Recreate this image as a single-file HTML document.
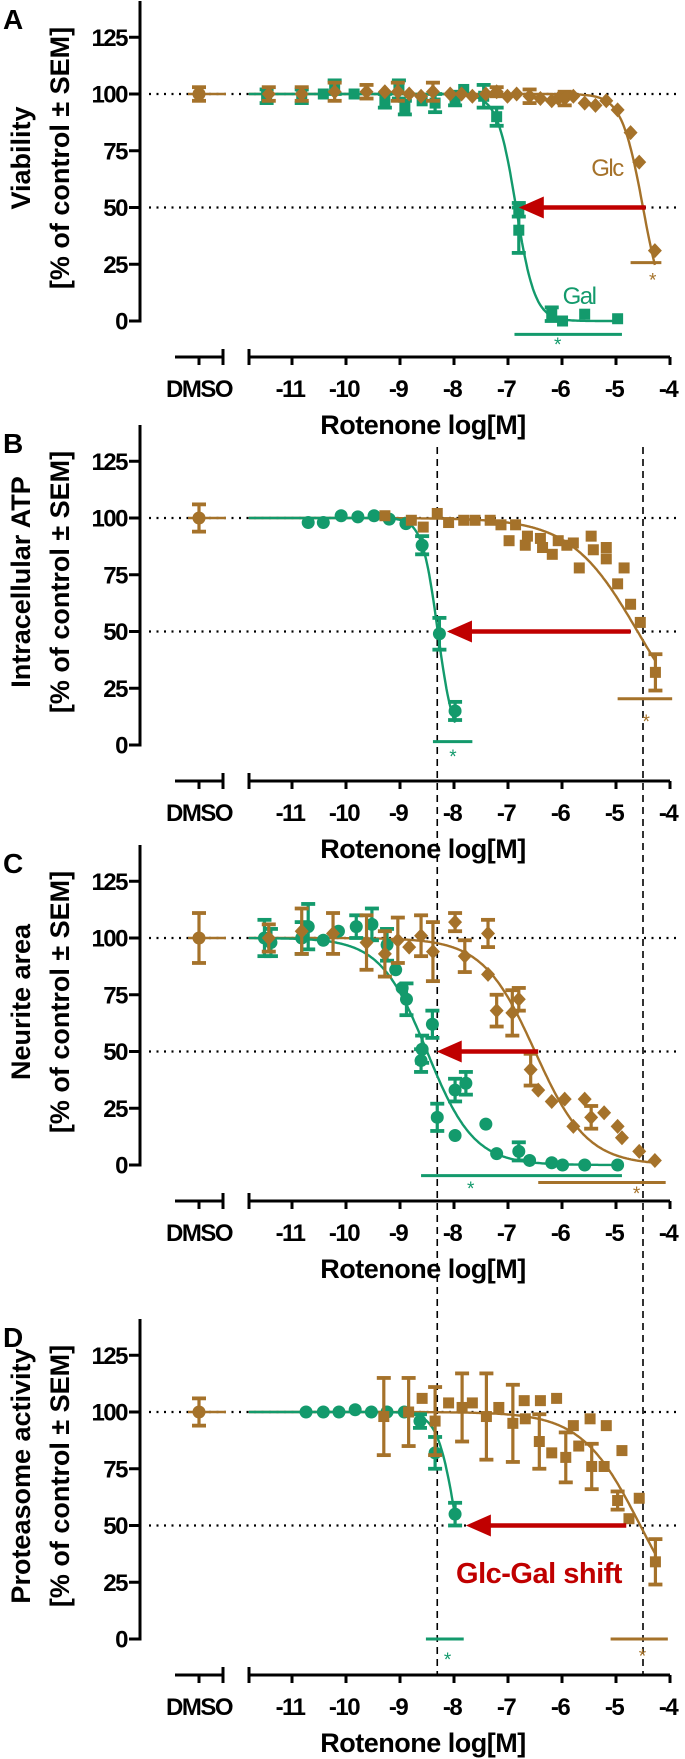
<!DOCTYPE html>
<html><head><meta charset="utf-8"><style>
html,body{margin:0;padding:0;background:#fff;}
svg{display:block;font-family:"Liberation Sans",Arial,sans-serif;}
</style></head><body>
<svg id="fig" width="685" height="1759" viewBox="0 0 685 1759" xmlns="http://www.w3.org/2000/svg"></svg>
<script>
// ---- data (log[M] concentrations, % of control, SEM) ----
const panelLetters = ["A","B","C","D"];
const yTitles1 = ["Viability","Intracellular ATP","Neurite area","Proteasome activity"];
const yTitles2 = ["[% of control \u00b1 SEM]","[% of control \u00b1 SEM]","[%  of control \u00b1 SEM]","[%  of control \u00b1 SEM]"];
const yTickVals = [0,25,50,75,100,125];
const xTickVals = [-11,-10,-9,-8,-7,-6,-5,-4];
const dmsoErr = [3,6,11,6];

const glcX_A = [-11.43,-10.82,-10.21,-9.62,-9.28,-9.04,-8.83,-8.61,-8.39,-8.07,-7.86,-7.66,-7.41,-7.21,-7.01,-6.84,-6.60,-6.40,-6.19,-6.07,-5.95,-5.79,-5.58,-5.38,-5.18,-4.97,-4.73,-4.57,-4.28];
const glcY_A = [100,100,101,101,101,101,100,99,101,100,100,99,100,101,99,100,99,98,97,98,98,99,96,95,97,93,83,70,31];
const glcE_A = [3,3,4,3,0,4,0,0,4,0,0,0,0,2,0,0,3,0,0,0,3,0,0,0,0,0,0,0,0];
const galX_A = [-11.47,-10.82,-10.42,-10.21,-9.85,-9.28,-9.02,-8.91,-8.59,-8.35,-7.98,-7.82,-7.45,-7.21,-6.80,-6.80,-6.19,-5.99,-5.58,-4.97];
const galY_A = [99,99,100,103,100,97,102,94,97,96,98,102,99,90,49,40,3,0,3,1];
const galE_A = [3,3,0,3,0,3,4,3,0,4,3,0,5,4,3,10,3,0,0,0];

const galX_B = [-10.70,-10.42,-10.09,-9.78,-9.48,-9.20,-8.89,-8.59,-8.27,-7.98];
const galY_B = [98,98,101,100.5,101,99.5,97.5,88,49,15];
const galE_B = [0,0,0,0,0,0,0,4,7,4];
const glcX_B = [-9.28,-8.79,-8.57,-8.31,-8.10,-7.82,-7.61,-7.33,-7.13,-6.98,-6.86,-6.68,-6.64,-6.40,-6.36,-6.18,-6.07,-5.91,-5.79,-5.68,-5.46,-5.42,-5.18,-5.18,-4.97,-4.85,-4.73,-4.55,-4.27];
const glcY_B = [101,99,96,102,98,99,99,99,97,90,97,88,92,91,87,84,90,88,89,78,92,86,87,82,71,78,62,54,32];
const glcE_B = [0,0,0,0,0,0,0,0,0,0,0,0,0,0,0,0,0,0,0,0,0,0,0,0,0,0,0,0,8];

const galX_C = [-11.51,-11.39,-10.82,-10.70,-10.42,-10.14,-9.81,-9.52,-9.24,-9.08,-8.96,-8.88,-8.59,-8.61,-8.40,-8.31,-7.98,-7.98,-7.78,-7.41,-7.21,-6.80,-6.60,-6.19,-5.99,-5.58,-4.97];
const galY_C = [100,98,100,105,99,103,105,106,97,86,78,73,51,46,62,21,13,33,36,18,5,6,2,1,0,0,0];
const galE_C = [8,6,7,10,0,0,5,7,7,0,0,7,6,5,6,6,0,5,5,0,0,4,0,0,0,0,0];
const glcX_C = [-11.43,-10.82,-10.24,-9.62,-9.28,-9.04,-8.83,-8.61,-8.39,-7.98,-7.80,-7.37,-7.37,-7.21,-6.92,-6.80,-6.58,-6.44,-6.19,-5.95,-5.79,-5.58,-5.46,-5.22,-4.97,-4.89,-4.57,-4.28];
const glcY_C = [100,103,102,98,93,99,96,101,94,107,92,102,84,68,67,73,42,33,28,29,17,29,21,23,17,12,6,2];
const glcE_C = [6,10,9,12,10,10,0,9,13,4,7,6,0,7,10,5,7,0,0,0,0,0,5,0,0,0,0,0];

const galX_D = [-10.74,-10.42,-10.13,-9.83,-9.53,-9.24,-8.92,-8.63,-8.35,-7.98];
const galY_D = [100,100,100,101,100,100,100,96,82,55];
const galE_D = [0,0,0,0,0,0,0,3,7,5];
const glcX_D = [-9.30,-8.84,-8.59,-8.35,-8.10,-7.85,-7.66,-7.40,-7.17,-6.91,-6.70,-6.68,-6.40,-6.42,-6.19,-6.10,-5.93,-5.79,-5.69,-5.48,-5.45,-5.18,-5.22,-4.89,-4.97,-4.76,-4.57,-4.27];
const glcY_D = [98,100,106,96,104,102,104,98,102,95,105,97,105,87,82,106,80,94,85,97,76,94,76,83,61,53,62,34];
const glcE_D = [17,15,0,15,0,15,0,19,0,17,0,0,0,12,0,0,11,0,0,0,10,0,0,0,4,0,0,10];

// fit parameters [logIC50, hill slope]
const glcFitC50 = [-4.5,-4.6,-6.5,-4.55];
const glcFitHill = [2.2,0.7,0.9,0.8];
const galFitC50 = [-6.85,-8.3,-8.5,-7.95];
const galFitHill = [2.5,3,1.0,2.5];

// significance bars
const galSigFrom = [-6.88,-8.39,-8.61,-8.52];
const galSigTo = [-4.89,-7.66,-4.89,-7.82];
const galSigLevel = [-5.9,1.5,-4.7,0];
const galStarX = [-6.08,-8.02,-7.69,-8.12];
const galStarY = [-9.8,-4.4,-9.6,-8.3];
const glcSigFrom = [-4.73,-4.97,-6.44,-5.1];
const glcSigTo = [-4.16,-3.96,-4.08,-4.04];
const glcSigLevel = [25.7,20.4,-7.7,0];
const glcStarX = [-4.32,-4.44,-4.62,-4.51];
const glcStarY = [18.8,11,-11.8,-6.9];

// shift arrows at 50%
const arrowFrom = [-4.45,-4.73,-6.44,-4.81];
const arrowTo = [-6.8,-8.13,-8.32,-7.78];

const dashX = [-8.31,-4.5];

// ---- layout ----
const zeroY = [321,745,1165,1639];
const GREEN = "#139a6c", BROWN = "#a5722a", RED = "#c00000";
const svg = document.getElementById("fig");
const NS = "http://www.w3.org/2000/svg";
function xs(v){ return 670 + (v + 4) * 54; }
function ys(p, val){ return zeroY[p] - val * 2.27; }
function mk(tag, attrs, parent){
  const e = document.createElementNS(NS, tag);
  for (const k in attrs) e.setAttribute(k, attrs[k]);
  (parent || svg).appendChild(e);
  return e;
}
function hill(x, c, h){ return 100 / (1 + Math.pow(10, (x - c) * h)); }

const glcX = [glcX_A,glcX_B,glcX_C,glcX_D], glcY = [glcY_A,glcY_B,glcY_C,glcY_D], glcE = [glcE_A,glcE_B,glcE_C,glcE_D];
const galX = [galX_A,galX_B,galX_C,galX_D], galY = [galY_A,galY_B,galY_C,galY_D], galE = [galE_A,galE_B,galE_C,galE_D];

function marker(p, x, y, kind, color, g){
  const cx = xs(x), cy = ys(p, y);
  let m;
  if (kind === "circle") m = mk("circle", {cx:cx, cy:cy, r:6.5, fill:color}, g);
  else if (kind === "square") m = mk("rect", {x:cx-5.5, y:cy-5.5, width:11, height:11, fill:color}, g);
  else m = mk("polygon", {points:`${cx},${cy-7.5} ${cx+7},${cy} ${cx},${cy+7.5} ${cx-7},${cy}`, fill:color}, g);
  return m;
}
function errbar(p, x, y, e, color, g){
  const cx = xs(x);
  const y1 = ys(p, y + e), y2 = ys(p, y - e);
  mk("line", {x1:cx, y1:y1, x2:cx, y2:y2, stroke:color, "stroke-width":3.2}, g);
  mk("line", {x1:cx-7, y1:y1, x2:cx+7, y2:y1, stroke:color, "stroke-width":3.8}, g);
  mk("line", {x1:cx-7, y1:y2, x2:cx+7, y2:y2, stroke:color, "stroke-width":3.8}, g);
}
function curve(p, c, h, xEnd, color, name){
  let d = "";
  for (let x = -11.8; x <= xEnd + 0.001; x += 0.02) {
    d += (d ? "L" : "M") + xs(x).toFixed(1) + "," + ys(p, hill(x, c, h)).toFixed(1);
  }
  const path = mk("path", {d:d, fill:"none", stroke:color, "stroke-width":2.4});
  
  
}
function text(x, y, s, attrs){
  const t = mk("text", Object.assign({x:x, y:y}, attrs));
  t.textContent = s;
  return t;
}

dashX.forEach((v, i) => {
  const l = mk("line", {x1:xs(v), y1:447, x2:xs(v), y2:1674, stroke:"#000", "stroke-width":1.6, "stroke-dasharray":"7,5"});
  
  
});

for (let p = 0; p < 4; p++) {
  const z = zeroY[p];
  const L = panelLetters[p].toLowerCase();
  const pl = text(3, z - 292, panelLetters[p], {"font-size":28, "font-weight":"bold"});
  
  

  [100, 50].forEach(v => {
    const dl = mk("line", {x1:149, y1:ys(p, v), x2:676, y2:ys(p, v), stroke:"#000", "stroke-width":2.2, "stroke-dasharray":"2,5.5"});
    
    
  });

  const ya = mk("line", {x1:140, y1:z - 320, x2:140, y2:z + 1.5, stroke:"#000", "stroke-width":3});
  
  
  yTickVals.forEach(v => {
    mk("line", {x1:129, y1:ys(p, v), x2:140, y2:ys(p, v), stroke:"#000", "stroke-width":3});
    const t = text(127, ys(p, v) + 8.5, String(v), {"font-size":24, "font-weight":"bold", "text-anchor":"end", "letter-spacing":"-1.5"});
    
    
  });
  const cy = z - 163;
  const t1 = text(0, 0, yTitles1[p], {"font-size":27, "font-weight":"bold", "text-anchor":"middle", transform:`translate(30,${cy}) rotate(-90)`});
  
  
  const t2 = text(0, 0, yTitles2[p], {"font-size":27, "font-weight":"bold", "text-anchor":"middle", transform:`translate(69,${cy}) rotate(-90)`});
  
  

  const ax = z + 36;
  const dm = mk("line", {x1:175, y1:ax, x2:223, y2:ax, stroke:"#000", "stroke-width":3});
  
  
  mk("line", {x1:199, y1:ax, x2:199, y2:ax + 8, stroke:"#000", "stroke-width":3});
  mk("line", {x1:223, y1:ax - 8, x2:223, y2:ax + 8, stroke:"#000", "stroke-width":3});
  const xa = mk("line", {x1:249, y1:ax, x2:670, y2:ax, stroke:"#000", "stroke-width":3});
  
  
  mk("line", {x1:249, y1:ax - 8, x2:249, y2:ax + 8, stroke:"#000", "stroke-width":3});
  xTickVals.forEach(v => {
    mk("line", {x1:xs(v), y1:ax, x2:xs(v), y2:ax + 8, stroke:"#000", "stroke-width":3});
    const t = text(xs(v) - 2, ax + 40, String(v), {"font-size":24, "font-weight":"bold", "text-anchor":"middle", "letter-spacing":"-1.5"});
    
    
  });
  const dt = text(199, ax + 40, "DMSO", {"font-size":24, "font-weight":"bold", "text-anchor":"middle", "letter-spacing":"-1.5"});
  
  
  const xt = text(423, ax + 77, "Rotenone log[M]", {"font-size":27, "font-weight":"bold", "text-anchor":"middle", "letter-spacing":"-0.5"});
  
  

  const dml = mk("line", {x1:188, y1:ys(p, 100), x2:226, y2:ys(p, 100), stroke:BROWN, "stroke-width":2.4});
  
  

  const gx = galX[p], kx = glcX[p];
  curve(p, glcFitC50[p], glcFitHill[p], kx[kx.length - 1], BROWN, 'glc-fit-curve-' + L);
  curve(p, galFitC50[p], galFitHill[p], Math.max(...gx), GREEN, 'gal-fit-curve-' + L);

  const glcKind = (p === 0 || p === 2) ? "diamond" : "square";
  const galKind = (p === 0) ? "square" : "circle";

  const gG = mk("g", {});
  
  
  gx.forEach((x, i) => {
    if (galE[p][i] > 0) errbar(p, x, galY[p][i], galE[p][i], GREEN, gG);
    const m = marker(p, x, galY[p][i], galKind, GREEN, gG);
    
    
  });
  const gK = mk("g", {});
  
  
  kx.forEach((x, i) => {
    if (glcE[p][i] > 0) errbar(p, x, glcY[p][i], glcE[p][i], BROWN, gK);
    const m = marker(p, x, glcY[p][i], glcKind, BROWN, gK);
    
    
  });
  const dg = mk("g", {});
  
  
  const dmsoX = -4 + (199 - 670) / 54;
  errbar(p, dmsoX, 100, dmsoErr[p], BROWN, dg);
  marker(p, dmsoX, 100, "circle", BROWN, dg);

  const sg = mk("line", {x1:xs(galSigFrom[p]), y1:ys(p, galSigLevel[p]), x2:xs(galSigTo[p]), y2:ys(p, galSigLevel[p]), stroke:GREEN, "stroke-width":3});
  
  
  const sgs = text(xs(galStarX[p]), ys(p, galStarY[p]) + 8, "*", {"font-size":19, fill:GREEN, "text-anchor":"middle"});
  
  
  const sk = mk("line", {x1:xs(glcSigFrom[p]), y1:ys(p, glcSigLevel[p]), x2:xs(glcSigTo[p]), y2:ys(p, glcSigLevel[p]), stroke:BROWN, "stroke-width":3});
  
  
  const sks = text(xs(glcStarX[p]), ys(p, glcStarY[p]) + 8, "*", {"font-size":19, fill:BROWN, "text-anchor":"middle"});
  
  

  const ag = mk("g", {});
  
  
  const a1 = xs(arrowFrom[p]), a2 = xs(arrowTo[p]), ay = ys(p, 50);
  mk("line", {x1:a1, y1:ay, x2:a2 + 20, y2:ay, stroke:RED, "stroke-width":4.5}, ag);
  mk("polygon", {points:`${a2},${ay} ${a2 + 25},${ay - 11} ${a2 + 25},${ay + 11}`, fill:RED}, ag);
}

const glcLab = text(607, 176, "Glc", {"font-size":24, fill:BROWN, "text-anchor":"middle", "letter-spacing":"-1.5"});


const galLab = text(579, 304, "Gal", {"font-size":24, fill:GREEN, "text-anchor":"middle", "letter-spacing":"-1.5"});


const shiftLab = text(539, 1583, "Glc-Gal shift", {"font-size":29, "font-weight":"bold", fill:RED, "text-anchor":"middle", "letter-spacing":"-0.5"});


</script>
</body></html>
